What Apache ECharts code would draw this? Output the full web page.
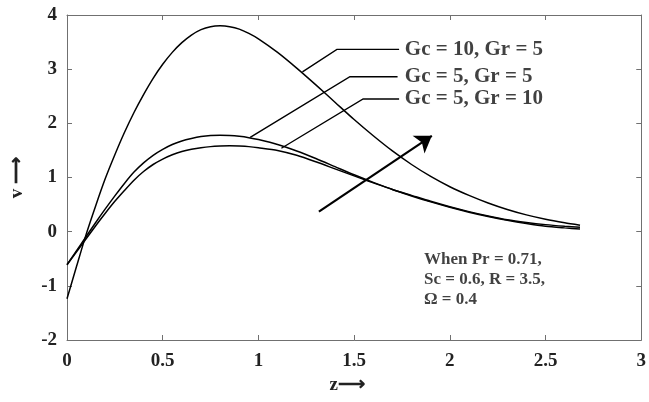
<!DOCTYPE html>
<html><head><meta charset="utf-8">
<script src="https://cdn.jsdelivr.net/npm/echarts@6/dist/echarts.min.js"></script>
<style>html,body{margin:0;padding:0;background:#fff}#c{width:649px;height:402px}</style>
</head><body><div id="c"></div>
<script>
const xTicks = {min: 0, max: 3, interval: 0.5};
const yTicks = {min: -2, max: 4, interval: 1};

const xA = [0,0.05,0.1,0.15,0.2,0.25,0.3,0.35,0.4,0.45,0.5,0.55,0.6,0.65,0.7,0.75,0.8,0.85,0.9,0.95,1.0,1.1,1.2,1.3,1.4,1.5,1.6,1.7,1.8,1.9,2.0,2.1,2.2,2.3,2.4,2.5,2.6,2.68];
const vA = [-1.24,-0.64,-0.05,0.48,0.98,1.42,1.83,2.2,2.53,2.83,3.09,3.31,3.49,3.63,3.73,3.785,3.80,3.785,3.74,3.66,3.56,3.31,3.02,2.71,2.39,2.07,1.77,1.49,1.24,1.02,0.83,0.67,0.53,0.41,0.31,0.23,0.165,0.12];

const xBC = [0,0.05,0.1,0.15,0.2,0.25,0.3,0.35,0.4,0.45,0.5,0.55,0.6,0.65,0.7,0.75,0.8,0.85,0.9,0.95,1.0,1.1,1.2,1.3,1.4,1.5,1.6,1.7,1.8,1.9,2.0,2.1,2.2,2.3,2.4,2.5,2.6,2.68];
const vB = [-0.61,-0.35,-0.09,0.17,0.42,0.66,0.89,1.1,1.27,1.41,1.52,1.61,1.675,1.72,1.755,1.775,1.78,1.775,1.76,1.735,1.70,1.61,1.49,1.35,1.2,1.05,0.91,0.78,0.67,0.56,0.46,0.37,0.29,0.22,0.17,0.13,0.10,0.08];
const vC = [-0.61,-0.37,-0.13,0.11,0.34,0.56,0.76,0.95,1.11,1.24,1.34,1.42,1.48,1.52,1.55,1.57,1.58,1.585,1.58,1.57,1.55,1.50,1.41,1.29,1.16,1.03,0.90,0.78,0.66,0.55,0.45,0.36,0.28,0.21,0.15,0.10,0.07,0.05];

const curveLabels = ['Gc = 10, Gr = 5', 'Gc = 5, Gr = 5', 'Gc = 5, Gr = 10'];
// pointer polylines: start on curve, elbow, arrow tip
const pointers = [
  [[1.23, 2.95], [1.41, 3.365], [1.735, 3.365]],
  [[0.957, 1.74], [1.478, 2.86], [1.727, 2.86]],
  [[1.12, 1.54], [1.547, 2.45], [1.735, 2.45]]
];
const labelAnchors = [[1.765, 3.365], [1.765, 2.86], [1.765, 2.45]];
const bigArrow = [[1.316, 0.37], [1.906, 1.77]];
const noteText = 'When Pr = 0.71,\nSc = 0.6, R = 3.5,\nΩ = 0.4';
const noteAnchor = [1.865, -0.89];

const zip = (xs, ys) => xs.map((x, i) => [x, ys[i]]);
const FONT = '"Liberation Serif", "Times New Roman", serif';
const AX = '#707070';

const chart = echarts.init(document.getElementById('c'), null, {renderer: 'canvas'});
const curve = (name, xs, ys) => ({
  name, type: 'line', data: zip(xs, ys), smooth: 0.25, showSymbol: false,
  lineStyle: {color: '#000', width: 1.5}, z: 3, silent: true
});
const boxAxis = () => ({
  axisLine: {show: true, onZero: false, lineStyle: {color: AX, width: 1}},
  axisTick: {show: true, inside: true, length: 5, lineStyle: {color: AX}},
  splitLine: {show: false}
});
chart.setOption({
  animation: false,
  backgroundColor: '#fff',
  grid: {left: 60, right: 4, top: 15, bottom: 62, containLabel: false},
  xAxis: [
    Object.assign({type: 'value', position: 'bottom', min: xTicks.min, max: xTicks.max, interval: xTicks.interval,
      name: 'z⟶', nameLocation: 'middle', nameGap: 36,
      nameTextStyle: {fontFamily: FONT, fontWeight: 'bold', fontSize: 19, color: '#222', padding: [0, 14, 0, 0]},
      axisLabel: {fontFamily: FONT, fontWeight: 'bold', fontSize: 19, color: '#222', margin: 12}}, boxAxis()),
    Object.assign({type: 'value', position: 'top', min: xTicks.min, max: xTicks.max, interval: xTicks.interval,
      axisLabel: {show: false}}, boxAxis())
  ],
  yAxis: [
    Object.assign({type: 'value', position: 'left', min: yTicks.min, max: yTicks.max, interval: yTicks.interval,
      name: 'v ⟶', nameLocation: 'middle', nameGap: 40, nameRotate: 90,
      nameTextStyle: {fontFamily: FONT, fontWeight: 'bold', fontSize: 19, color: '#222'},
      axisLabel: {fontFamily: FONT, fontWeight: 'bold', fontSize: 19, color: '#222', margin: 10}}, boxAxis()),
    Object.assign({type: 'value', position: 'right', min: yTicks.min, max: yTicks.max, interval: yTicks.interval,
      axisLabel: {show: false}}, boxAxis())
  ],
  series: [
    curve(curveLabels[0], xA, vA),
    curve(curveLabels[1], xBC, vB),
    curve(curveLabels[2], xBC, vC),
    {
      type: 'lines', coordinateSystem: 'cartesian2d', polyline: true, silent: true,
      symbol: ['none', 'arrow'], symbolSize: 12,
      lineStyle: {color: '#000', width: 1.4, opacity: 1},
      data: pointers.map(p => ({coords: p})), z: 4
    },
    {
      type: 'lines', coordinateSystem: 'cartesian2d', silent: true,
      symbol: ['none', 'arrow'], symbolSize: 16,
      lineStyle: {color: '#000', width: 2.2, opacity: 1},
      data: [{coords: bigArrow}], z: 4
    },
    {
      type: 'scatter', symbolSize: 0, silent: true,
      data: labelAnchors.map((p, i) => ({value: p, label: {formatter: curveLabels[i]}})),
      label: {show: true, position: 'right', distance: 0, fontFamily: FONT, fontWeight: 'bold', fontSize: 21, color: '#111'},
      z: 5
    },
    {
      type: 'scatter', symbolSize: 0, silent: true,
      data: [{value: noteAnchor, label: {formatter: noteText}}],
      label: {show: true, position: 'right', distance: 0, fontFamily: FONT, fontWeight: 'bold', fontSize: 17, lineHeight: 20, color: '#111', align: 'left'},
      z: 5
    }
  ]
});
</script></body></html>
